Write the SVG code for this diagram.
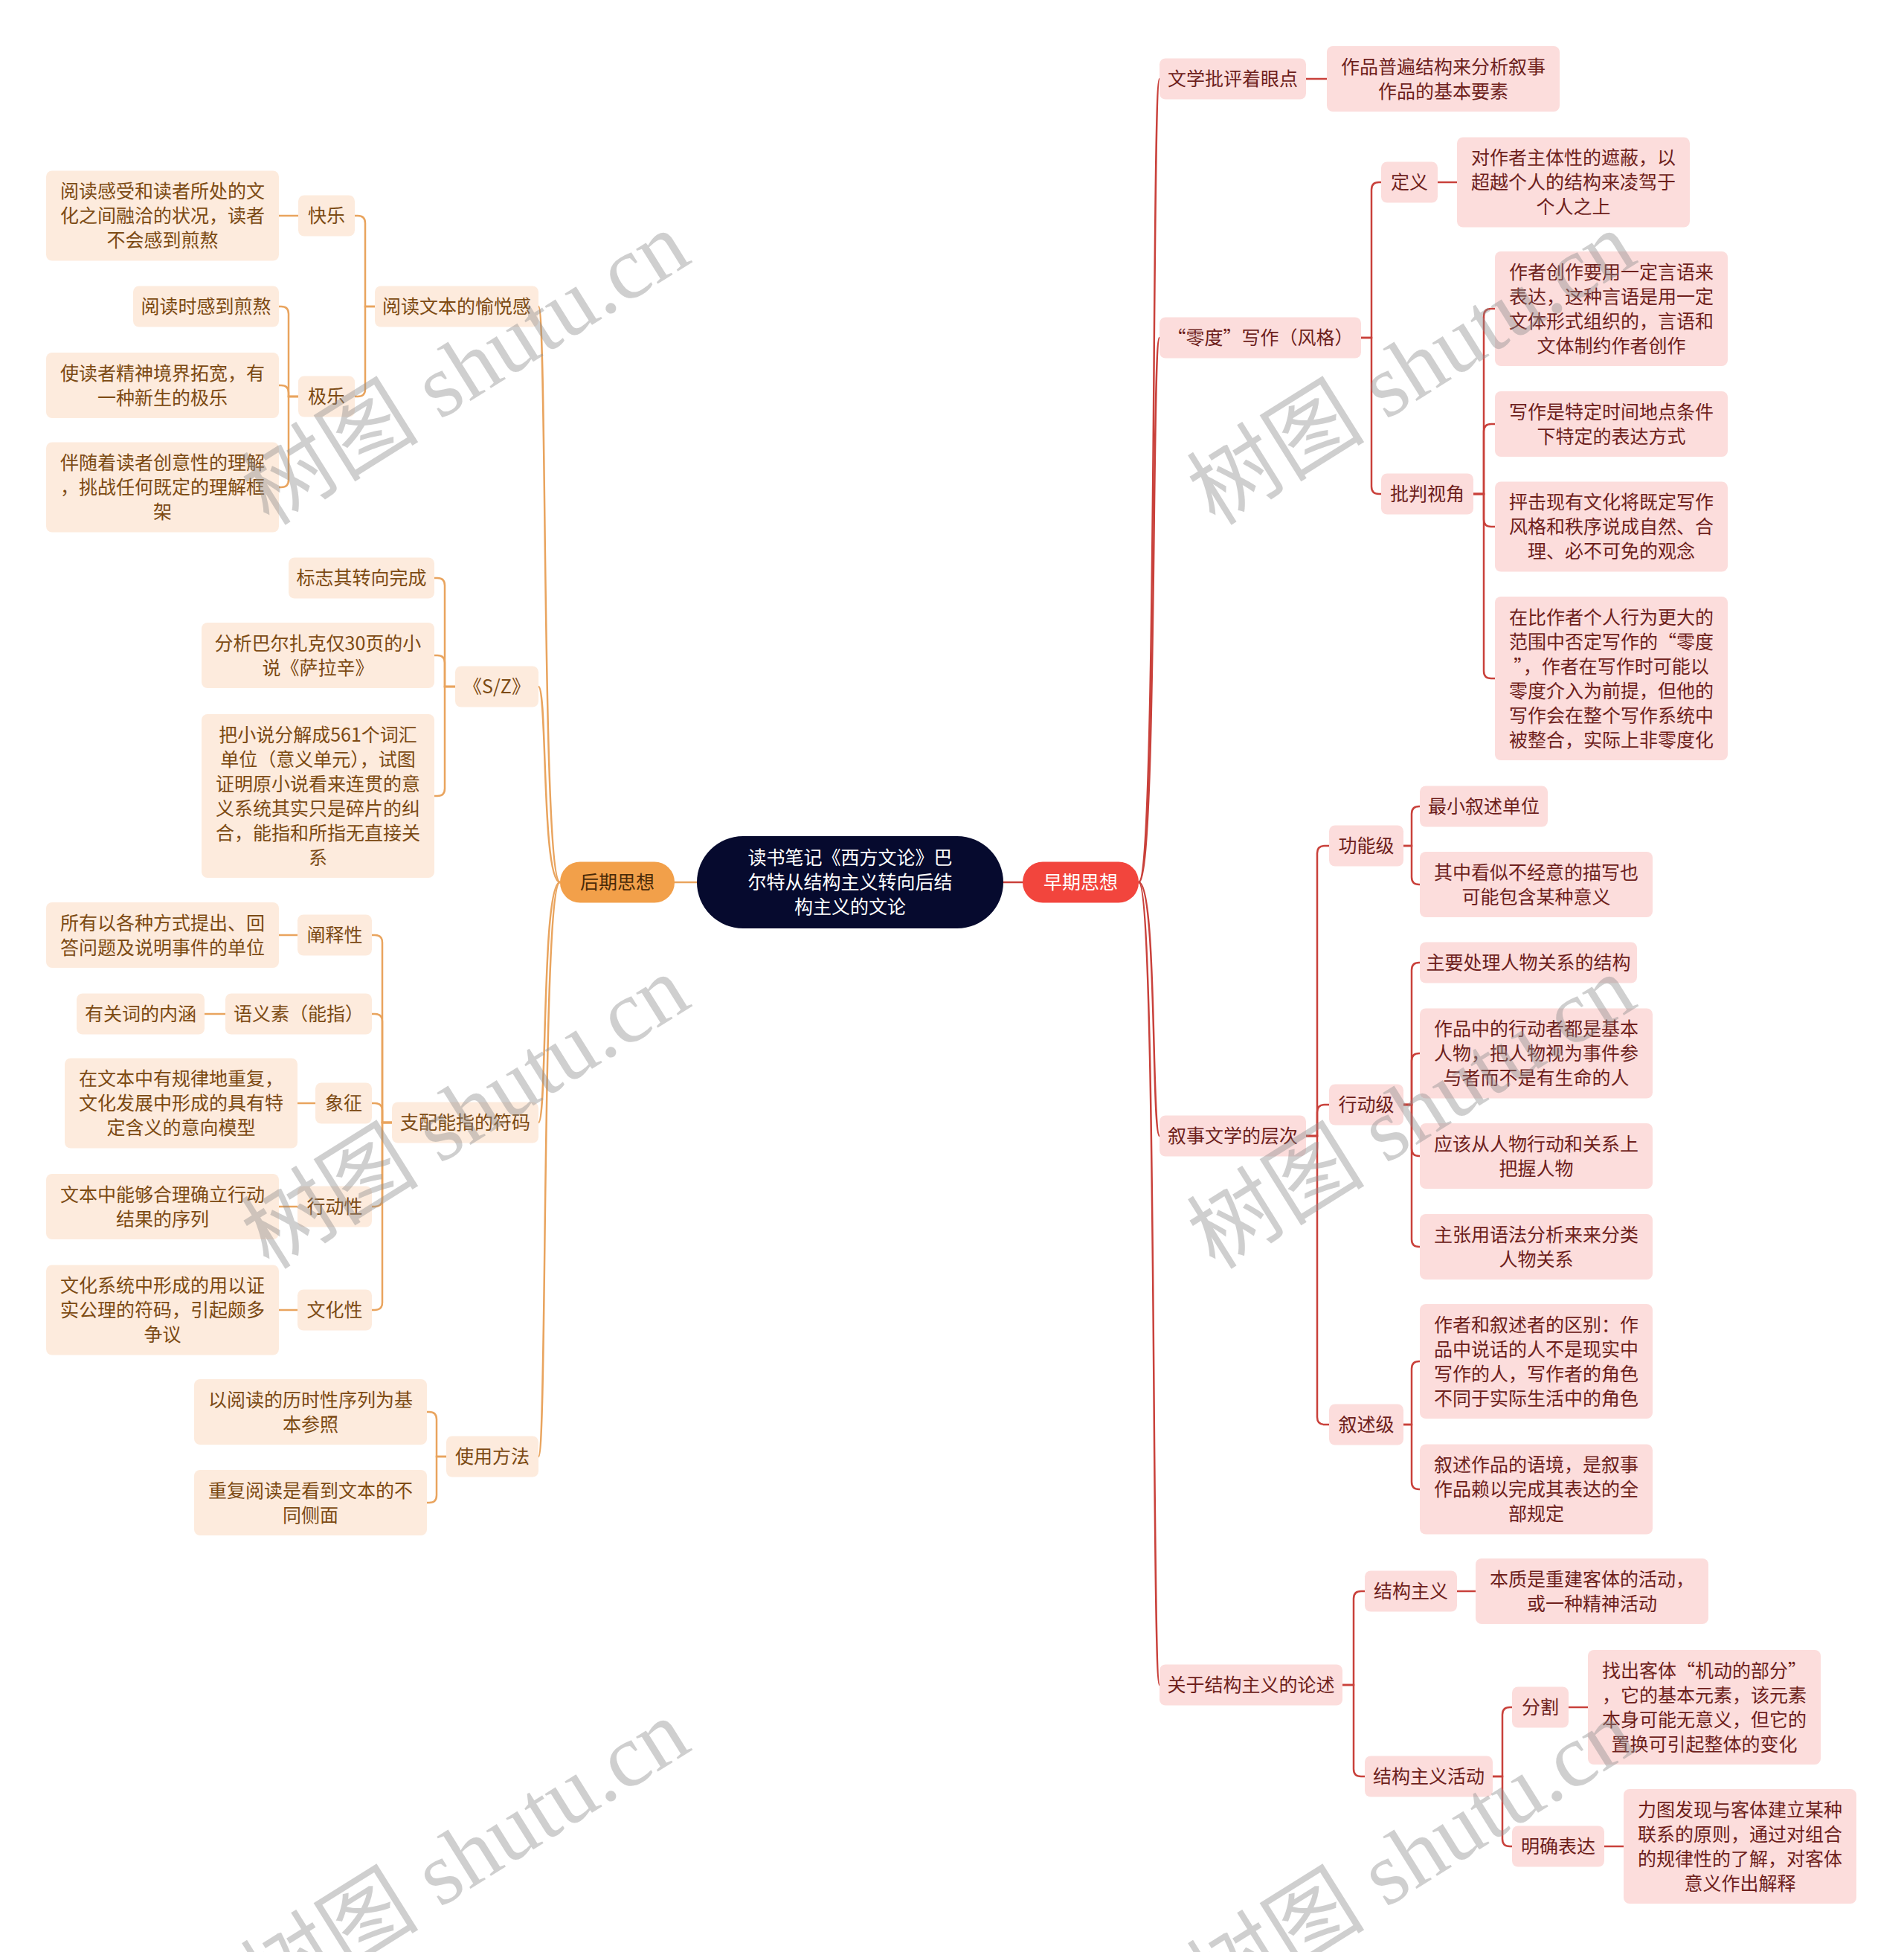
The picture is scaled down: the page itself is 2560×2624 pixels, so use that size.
<svg xmlns="http://www.w3.org/2000/svg" width="2560" height="2624" viewBox="0 0 2560 2624">
<style>
text{font-family:"Noto Sans CJK SC","Noto Sans",sans-serif;font-size:25px;text-anchor:middle}
.rb{fill:#FCDDDC}
.rt{fill:#6E1F1C}
.lb{fill:#FDEBDD}
.lt{fill:#7C4A13}
.cr{fill:none;stroke:#C9413B;stroke-width:2.5}
.cl{fill:none;stroke:#E9A45E;stroke-width:2.5}
.wm{font-family:"Liberation Serif","Noto Sans CJK SC",serif;font-size:120px;fill:#8c8c8c;fill-opacity:.42;text-anchor:start}
</style>
<rect width="2560" height="2624" fill="#ffffff"/>
<g id="connectors">
<path class="cr" d="M1349 1186H1375"/>
<path class="cl" d="M937 1186H907"/>
<path class="cr" d="M1531 1186C1556 1186 1548 106 1559 106"/>
<path class="cr" d="M1531 1186C1556 1186 1548 454 1559 454"/>
<path class="cr" d="M1531 1186C1556 1186 1548 1527 1559 1527"/>
<path class="cr" d="M1531 1186C1556 1186 1548 2265 1559 2265"/>
<path class="cr" d="M1756 106H1784"/>
<path class="cr" d="M1830 454H1844V255Q1844 245 1854 245H1857"/>
<path class="cr" d="M1830 454H1844V654Q1844 664 1854 664H1857"/>
<path class="cr" d="M1933 245H1959"/>
<path class="cr" d="M1981 664H1995V425Q1995 415 2005 415H2010"/>
<path class="cr" d="M1981 664H1995V580Q1995 570 2005 570H2010"/>
<path class="cr" d="M1981 664H1995V698Q1995 708 2005 708H2010"/>
<path class="cr" d="M1981 664H1995V902Q1995 912 2005 912H2010"/>
<path class="cr" d="M1756 1527H1771V1147Q1771 1137 1781 1137H1787"/>
<path class="cr" d="M1756 1527H1771V1495Q1771 1485 1781 1485H1787"/>
<path class="cr" d="M1756 1527H1771V1905Q1771 1915 1781 1915H1787"/>
<path class="cr" d="M1887 1137H1898V1094Q1898 1084 1908 1084H1909"/>
<path class="cr" d="M1887 1137H1898V1179Q1898 1189 1908 1189H1909"/>
<path class="cr" d="M1887 1485H1898V1304Q1898 1294 1908 1294H1909"/>
<path class="cr" d="M1887 1485H1898V1426Q1898 1416 1908 1416H1909"/>
<path class="cr" d="M1887 1485H1898V1544Q1898 1554 1908 1554H1909"/>
<path class="cr" d="M1887 1485H1898V1666Q1898 1676 1908 1676H1909"/>
<path class="cr" d="M1887 1915H1898V1840Q1898 1830 1908 1830H1909"/>
<path class="cr" d="M1887 1915H1898V1992Q1898 2002 1908 2002H1909"/>
<path class="cr" d="M1805 2265H1820V2149Q1820 2139 1830 2139H1835"/>
<path class="cr" d="M1805 2265H1820V2378Q1820 2388 1830 2388H1835"/>
<path class="cr" d="M1959 2139H1984"/>
<path class="cr" d="M2007 2388H2020V2305Q2020 2295 2030 2295H2033"/>
<path class="cr" d="M2007 2388H2020V2472Q2020 2482 2030 2482H2033"/>
<path class="cr" d="M2109 2295H2135"/>
<path class="cr" d="M2157 2482H2183"/>
<path class="cl" d="M753 1186C728 1186 736 412 724 412"/>
<path class="cl" d="M753 1186C728 1186 736 923 724 923"/>
<path class="cl" d="M753 1186C728 1186 736 1509 724 1509"/>
<path class="cl" d="M753 1186C728 1186 736 1958 724 1958"/>
<path class="cl" d="M504 412H491V300Q491 290 481 290H477"/>
<path class="cl" d="M504 412H491V523Q491 533 481 533H477"/>
<path class="cl" d="M401 290H375"/>
<path class="cl" d="M401 533H388V422Q388 412 378 412H375"/>
<path class="cl" d="M401 533H388V528Q388 518 378 518H375"/>
<path class="cl" d="M401 533H388V645Q388 655 378 655H375"/>
<path class="cl" d="M612 923H598V787Q598 777 588 777H584"/>
<path class="cl" d="M612 923H598V891Q598 881 588 881H584"/>
<path class="cl" d="M612 923H598V1060Q598 1070 588 1070H584"/>
<path class="cl" d="M527 1509H514V1267Q514 1257 504 1257H500"/>
<path class="cl" d="M527 1509H514V1373Q514 1363 504 1363H500"/>
<path class="cl" d="M527 1509H514V1493Q514 1483 504 1483H500"/>
<path class="cl" d="M527 1509H514V1612Q514 1622 504 1622H500"/>
<path class="cl" d="M527 1509H514V1751Q514 1761 504 1761H500"/>
<path class="cl" d="M400 1257H375"/>
<path class="cl" d="M303 1363H275"/>
<path class="cl" d="M424 1483H400"/>
<path class="cl" d="M400 1622H375"/>
<path class="cl" d="M400 1761H375"/>
<path class="cl" d="M600 1958H587V1908Q587 1898 577 1898H574"/>
<path class="cl" d="M600 1958H587V2010Q587 2020 577 2020H574"/>
</g>
<g id="root"><rect x="937" y="1124" width="412" height="124" rx="62" fill="#060A2E"/><text fill="#ffffff"><tspan x="1143" y="1162">读书笔记《西方文论》巴</tspan><tspan x="1143" dy="33">尔特从结构主义转向后结</tspan><tspan x="1143" dy="33">构主义的文论</tspan></text></g>
<g id="late"><rect x="753" y="1158.5" width="154" height="55" rx="27" fill="#F2A04A"/><text x="830" y="1195" fill="#4A2A08">后期思想</text></g>
<g id="early"><rect x="1375" y="1158.5" width="156" height="55" rx="27" fill="#F2453D"/><text x="1453" y="1195" fill="#ffffff">早期思想</text></g>
<g id="r1"><rect class="rb" x="1559" y="78.5" width="197" height="55" rx="8"/><text class="rt" x="1657.5" y="115">文学批评着眼点</text></g>
<g id="r1a"><rect class="rb" x="1784" y="62" width="313" height="88" rx="8"/><text class="rt"><tspan x="1940.5" y="98.5">作品普遍结构来分析叙事</tspan><tspan x="1940.5" dy="33">作品的基本要素</tspan></text></g>
<g id="r2"><rect class="rb" x="1559" y="426.5" width="271" height="55" rx="8"/><text class="rt" x="1694.5" y="463">“零度”写作（风格）</text></g>
<g id="r2a"><rect class="rb" x="1857" y="217.5" width="76" height="55" rx="8"/><text class="rt" x="1895" y="254">定义</text></g>
<g id="r2a1"><rect class="rb" x="1959" y="184.5" width="313" height="121" rx="8"/><text class="rt"><tspan x="2115.5" y="221">对作者主体性的遮蔽，以</tspan><tspan x="2115.5" dy="33">超越个人的结构来凌驾于</tspan><tspan x="2115.5" dy="33">个人之上</tspan></text></g>
<g id="r2b"><rect class="rb" x="1857" y="636.5" width="124" height="55" rx="8"/><text class="rt" x="1919" y="673">批判视角</text></g>
<g id="r2b1"><rect class="rb" x="2010" y="338" width="313" height="154" rx="8"/><text class="rt"><tspan x="2166.5" y="374.5">作者创作要用一定言语来</tspan><tspan x="2166.5" dy="33">表达，这种言语是用一定</tspan><tspan x="2166.5" dy="33">文体形式组织的，言语和</tspan><tspan x="2166.5" dy="33">文体制约作者创作</tspan></text></g>
<g id="r2b2"><rect class="rb" x="2010" y="526" width="313" height="88" rx="8"/><text class="rt"><tspan x="2166.5" y="562.5">写作是特定时间地点条件</tspan><tspan x="2166.5" dy="33">下特定的表达方式</tspan></text></g>
<g id="r2b3"><rect class="rb" x="2010" y="647.5" width="313" height="121" rx="8"/><text class="rt"><tspan x="2166.5" y="684">抨击现有文化将既定写作</tspan><tspan x="2166.5" dy="33">风格和秩序说成自然、合</tspan><tspan x="2166.5" dy="33">理、必不可免的观念</tspan></text></g>
<g id="r2b4"><rect class="rb" x="2010" y="802" width="313" height="220" rx="8"/><text class="rt"><tspan x="2166.5" y="838.5">在比作者个人行为更大的</tspan><tspan x="2166.5" dy="33">范围中否定写作的“零度</tspan><tspan x="2166.5" dy="33">”，作者在写作时可能以</tspan><tspan x="2166.5" dy="33">零度介入为前提，但他的</tspan><tspan x="2166.5" dy="33">写作会在整个写作系统中</tspan><tspan x="2166.5" dy="33">被整合，实际上非零度化</tspan></text></g>
<g id="r3"><rect class="rb" x="1559" y="1499.5" width="197" height="55" rx="8"/><text class="rt" x="1657.5" y="1536">叙事文学的层次</text></g>
<g id="r3a"><rect class="rb" x="1787" y="1109.5" width="100" height="55" rx="8"/><text class="rt" x="1837" y="1146">功能级</text></g>
<g id="r3a1"><rect class="rb" x="1909" y="1056.5" width="172" height="55" rx="8"/><text class="rt" x="1995" y="1093">最小叙述单位</text></g>
<g id="r3a2"><rect class="rb" x="1909" y="1145" width="313" height="88" rx="8"/><text class="rt"><tspan x="2065.5" y="1181.5">其中看似不经意的描写也</tspan><tspan x="2065.5" dy="33">可能包含某种意义</tspan></text></g>
<g id="r3b"><rect class="rb" x="1787" y="1457.5" width="100" height="55" rx="8"/><text class="rt" x="1837" y="1494">行动级</text></g>
<g id="r3b1"><rect class="rb" x="1909" y="1266.5" width="292" height="55" rx="8"/><text class="rt" x="2055" y="1303">主要处理人物关系的结构</text></g>
<g id="r3b2"><rect class="rb" x="1909" y="1355.5" width="313" height="121" rx="8"/><text class="rt"><tspan x="2065.5" y="1392">作品中的行动者都是基本</tspan><tspan x="2065.5" dy="33">人物，把人物视为事件参</tspan><tspan x="2065.5" dy="33">与者而不是有生命的人</tspan></text></g>
<g id="r3b3"><rect class="rb" x="1909" y="1510" width="313" height="88" rx="8"/><text class="rt"><tspan x="2065.5" y="1546.5">应该从人物行动和关系上</tspan><tspan x="2065.5" dy="33">把握人物</tspan></text></g>
<g id="r3b4"><rect class="rb" x="1909" y="1632" width="313" height="88" rx="8"/><text class="rt"><tspan x="2065.5" y="1668.5">主张用语法分析来来分类</tspan><tspan x="2065.5" dy="33">人物关系</tspan></text></g>
<g id="r3c"><rect class="rb" x="1787" y="1887.5" width="100" height="55" rx="8"/><text class="rt" x="1837" y="1924">叙述级</text></g>
<g id="r3c1"><rect class="rb" x="1909" y="1753" width="313" height="154" rx="8"/><text class="rt"><tspan x="2065.5" y="1789.5">作者和叙述者的区别：作</tspan><tspan x="2065.5" dy="33">品中说话的人不是现实中</tspan><tspan x="2065.5" dy="33">写作的人，写作者的角色</tspan><tspan x="2065.5" dy="33">不同于实际生活中的角色</tspan></text></g>
<g id="r3c2"><rect class="rb" x="1909" y="1941.5" width="313" height="121" rx="8"/><text class="rt"><tspan x="2065.5" y="1978">叙述作品的语境，是叙事</tspan><tspan x="2065.5" dy="33">作品赖以完成其表达的全</tspan><tspan x="2065.5" dy="33">部规定</tspan></text></g>
<g id="r4"><rect class="rb" x="1559" y="2237.5" width="246" height="55" rx="8"/><text class="rt" x="1682" y="2274">关于结构主义的论述</text></g>
<g id="r4a"><rect class="rb" x="1835" y="2111.5" width="124" height="55" rx="8"/><text class="rt" x="1897" y="2148">结构主义</text></g>
<g id="r4a1"><rect class="rb" x="1984" y="2095" width="313" height="88" rx="8"/><text class="rt"><tspan x="2140.5" y="2131.5">本质是重建客体的活动，</tspan><tspan x="2140.5" dy="33">或一种精神活动</tspan></text></g>
<g id="r4b"><rect class="rb" x="1835" y="2360.5" width="172" height="55" rx="8"/><text class="rt" x="1921" y="2397">结构主义活动</text></g>
<g id="r4b1"><rect class="rb" x="2033" y="2267.5" width="76" height="55" rx="8"/><text class="rt" x="2071" y="2304">分割</text></g>
<g id="r4b1a"><rect class="rb" x="2135" y="2218" width="313" height="154" rx="8"/><text class="rt"><tspan x="2291.5" y="2254.5">找出客体“机动的部分”</tspan><tspan x="2291.5" dy="33">，它的基本元素，该元素</tspan><tspan x="2291.5" dy="33">本身可能无意义，但它的</tspan><tspan x="2291.5" dy="33">置换可引起整体的变化</tspan></text></g>
<g id="r4b2"><rect class="rb" x="2033" y="2454.5" width="124" height="55" rx="8"/><text class="rt" x="2095" y="2491">明确表达</text></g>
<g id="r4b2a"><rect class="rb" x="2183" y="2405" width="313" height="154" rx="8"/><text class="rt"><tspan x="2339.5" y="2441.5">力图发现与客体建立某种</tspan><tspan x="2339.5" dy="33">联系的原则，通过对组合</tspan><tspan x="2339.5" dy="33">的规律性的了解，对客体</tspan><tspan x="2339.5" dy="33">意义作出解释</tspan></text></g>
<g id="l1"><rect class="lb" x="504" y="384.5" width="220" height="55" rx="8"/><text class="lt" x="614" y="421">阅读文本的愉悦感</text></g>
<g id="l1a"><rect class="lb" x="401" y="262.5" width="76" height="55" rx="8"/><text class="lt" x="439" y="299">快乐</text></g>
<g id="l1a1"><rect class="lb" x="62" y="229.5" width="313" height="121" rx="8"/><text class="lt"><tspan x="218.5" y="266">阅读感受和读者所处的文</tspan><tspan x="218.5" dy="33">化之间融洽的状况，读者</tspan><tspan x="218.5" dy="33">不会感到煎熬</tspan></text></g>
<g id="l1b"><rect class="lb" x="401" y="505.5" width="76" height="55" rx="8"/><text class="lt" x="439" y="542">极乐</text></g>
<g id="l1b1"><rect class="lb" x="179" y="384.5" width="196" height="55" rx="8"/><text class="lt" x="277" y="421">阅读时感到煎熬</text></g>
<g id="l1b2"><rect class="lb" x="62" y="474" width="313" height="88" rx="8"/><text class="lt"><tspan x="218.5" y="510.5">使读者精神境界拓宽，有</tspan><tspan x="218.5" dy="33">一种新生的极乐</tspan></text></g>
<g id="l1b3"><rect class="lb" x="62" y="594.5" width="313" height="121" rx="8"/><text class="lt"><tspan x="218.5" y="631">伴随着读者创意性的理解</tspan><tspan x="218.5" dy="33">，挑战任何既定的理解框</tspan><tspan x="218.5" dy="33">架</tspan></text></g>
<g id="l2"><rect class="lb" x="612" y="895.5" width="112" height="55" rx="8"/><text class="lt" x="668" y="932">《S/Z》</text></g>
<g id="l2a"><rect class="lb" x="388" y="749.5" width="196" height="55" rx="8"/><text class="lt" x="486" y="786">标志其转向完成</text></g>
<g id="l2b"><rect class="lb" x="271" y="837" width="313" height="88" rx="8"/><text class="lt"><tspan x="427.5" y="873.5">分析巴尔扎克仅30页的小</tspan><tspan x="427.5" dy="33">说《萨拉辛》</tspan></text></g>
<g id="l2c"><rect class="lb" x="271" y="960" width="313" height="220" rx="8"/><text class="lt"><tspan x="427.5" y="996.5">把小说分解成561个词汇</tspan><tspan x="427.5" dy="33">单位（意义单元），试图</tspan><tspan x="427.5" dy="33">证明原小说看来连贯的意</tspan><tspan x="427.5" dy="33">义系统其实只是碎片的纠</tspan><tspan x="427.5" dy="33">合，能指和所指无直接关</tspan><tspan x="427.5" dy="33">系</tspan></text></g>
<g id="l3"><rect class="lb" x="527" y="1481.5" width="197" height="55" rx="8"/><text class="lt" x="625.5" y="1518">支配能指的符码</text></g>
<g id="l3a"><rect class="lb" x="400" y="1229.5" width="100" height="55" rx="8"/><text class="lt" x="450" y="1266">阐释性</text></g>
<g id="l3a1"><rect class="lb" x="62" y="1213" width="313" height="88" rx="8"/><text class="lt"><tspan x="218.5" y="1249.5">所有以各种方式提出、回</tspan><tspan x="218.5" dy="33">答问题及说明事件的单位</tspan></text></g>
<g id="l3b"><rect class="lb" x="303" y="1335.5" width="197" height="55" rx="8"/><text class="lt" x="401.5" y="1372">语义素（能指）</text></g>
<g id="l3b1"><rect class="lb" x="103" y="1335.5" width="172" height="55" rx="8"/><text class="lt" x="189" y="1372">有关词的内涵</text></g>
<g id="l3c"><rect class="lb" x="424" y="1455.5" width="76" height="55" rx="8"/><text class="lt" x="462" y="1492">象征</text></g>
<g id="l3c1"><rect class="lb" x="87" y="1422.5" width="313" height="121" rx="8"/><text class="lt"><tspan x="243.5" y="1459">在文本中有规律地重复，</tspan><tspan x="243.5" dy="33">文化发展中形成的具有特</tspan><tspan x="243.5" dy="33">定含义的意向模型</tspan></text></g>
<g id="l3d"><rect class="lb" x="400" y="1594.5" width="100" height="55" rx="8"/><text class="lt" x="450" y="1631">行动性</text></g>
<g id="l3d1"><rect class="lb" x="62" y="1578" width="313" height="88" rx="8"/><text class="lt"><tspan x="218.5" y="1614.5">文本中能够合理确立行动</tspan><tspan x="218.5" dy="33">结果的序列</tspan></text></g>
<g id="l3e"><rect class="lb" x="400" y="1733.5" width="100" height="55" rx="8"/><text class="lt" x="450" y="1770">文化性</text></g>
<g id="l3e1"><rect class="lb" x="62" y="1700.5" width="313" height="121" rx="8"/><text class="lt"><tspan x="218.5" y="1737">文化系统中形成的用以证</tspan><tspan x="218.5" dy="33">实公理的符码，引起颇多</tspan><tspan x="218.5" dy="33">争议</tspan></text></g>
<g id="l4"><rect class="lb" x="600" y="1930.5" width="124" height="55" rx="8"/><text class="lt" x="662" y="1967">使用方法</text></g>
<g id="l4a"><rect class="lb" x="261" y="1854" width="313" height="88" rx="8"/><text class="lt"><tspan x="417.5" y="1890.5">以阅读的历时性序列为基</tspan><tspan x="417.5" dy="33">本参照</tspan></text></g>
<g id="l4b"><rect class="lb" x="261" y="1976" width="313" height="88" rx="8"/><text class="lt"><tspan x="417.5" y="2012.5">重复阅读是看到文本的不</tspan><tspan x="417.5" dy="33">同侧面</tspan></text></g>
<g id="watermarks">
<text class="wm" transform="translate(362 708) rotate(-32)">树图 shutu.cn</text>
<text class="wm" transform="translate(362 1708) rotate(-32)">树图 shutu.cn</text>
<text class="wm" transform="translate(362 2708) rotate(-32)">树图 shutu.cn</text>
<text class="wm" transform="translate(1634 708) rotate(-32)">树图 shutu.cn</text>
<text class="wm" transform="translate(1634 1708) rotate(-32)">树图 shutu.cn</text>
<text class="wm" transform="translate(1634 2708) rotate(-32)">树图 shutu.cn</text>
</g>
</svg>
